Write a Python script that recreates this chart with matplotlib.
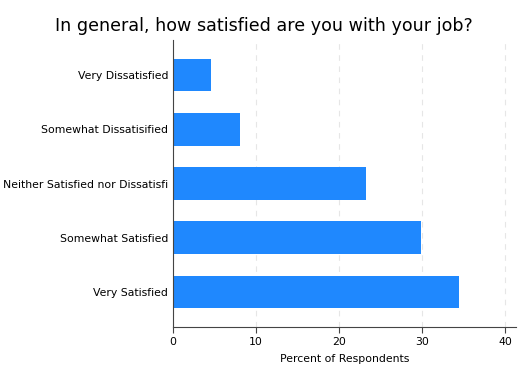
import matplotlib
matplotlib.use('Agg')
import matplotlib.pyplot as plt

# Data
categories = ['Very Satisfied', 'Somewhat Satisfied', 'Neither Satisfied nor Dissatisfi',
              'Somewhat Dissatisified', 'Very Dissatisfied']
percents = [34.5, 29.9, 23.2, 8.1, 4.6]
xticks = [0, 10, 20, 30, 40]

fig = plt.figure(figsize=(5.28, 3.84), dpi=100)
ax = fig.add_axes([0.328, 0.148, 0.649, 0.748])

ax.barh(range(len(categories)), percents, height=0.6, color='#1f88fe', zorder=2)
ax.set_yticks(range(len(categories)))
ax.set_yticklabels(categories, fontsize=7.8)
ax.set_xticks(xticks)
ax.set_xlim(0, 41.3)
ax.set_ylim(-0.65, 4.65)
ax.tick_params(axis='x', labelsize=7.8, length=4, color='#444444', pad=3)
ax.tick_params(axis='y', length=0, pad=3.5)

ax.grid(axis='x', linestyle=(0, (5, 5)), color='#e6e6e6', linewidth=0.8, zorder=0)
ax.spines['right'].set_visible(False)
ax.spines['top'].set_visible(False)
ax.spines['left'].set_color('#444444')
ax.spines['bottom'].set_color('#444444')

ax.set_xlabel('Percent of Respondents', fontsize=7.8, labelpad=5)
fig.suptitle('In general, how satisfied are you with your job?', fontsize=12.6, y=0.955)

fig.savefig('out.png', dpi=100)
